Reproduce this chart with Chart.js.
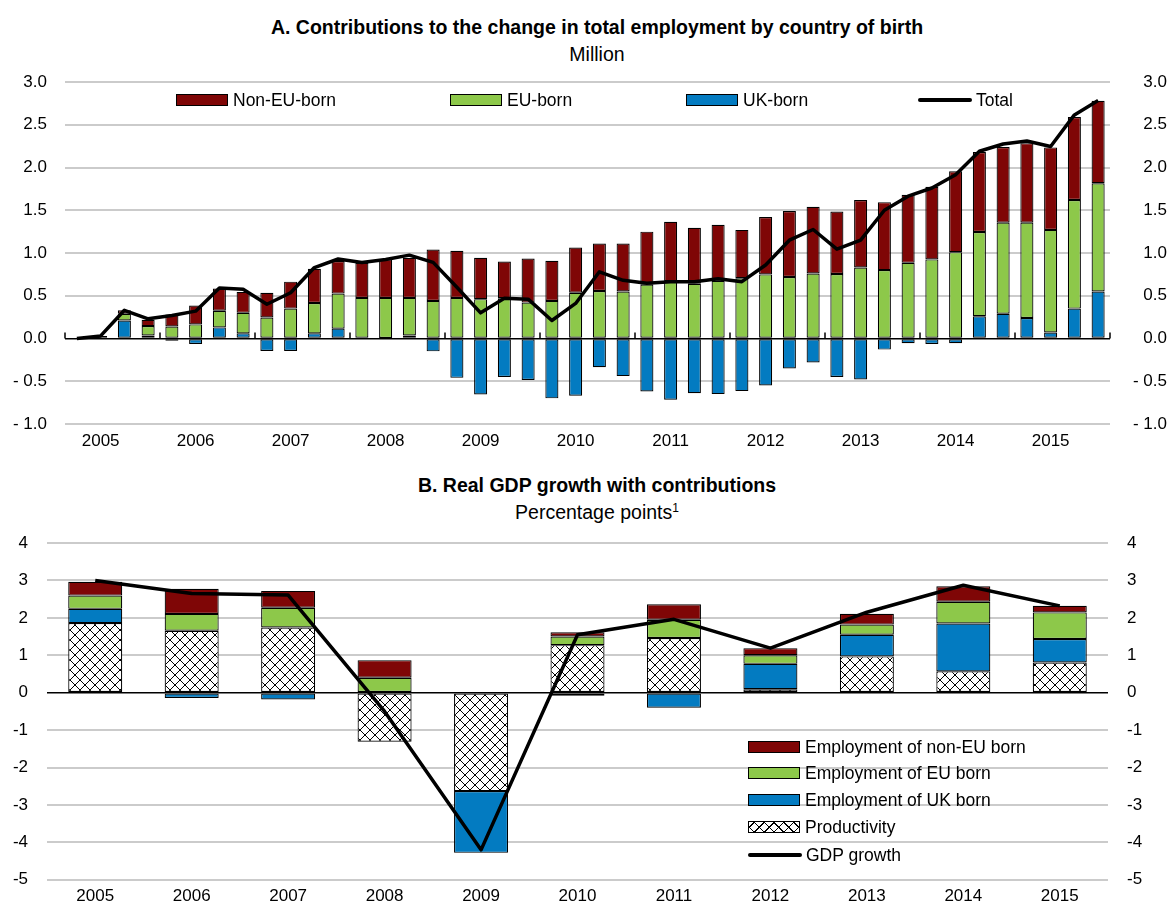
<!DOCTYPE html>
<html>
<head>
<meta charset="utf-8">
<script src="https://cdn.jsdelivr.net/npm/chart.js@4.4.1/dist/chart.umd.min.js"></script>
<style>
  html, body { margin: 0; padding: 0; background: #fff; }
  body { width: 1167px; height: 909px; position: relative; overflow: hidden; font-family: "Liberation Sans", Arial, sans-serif; color: #000; }
  .title { position: absolute; left: 0; width: 1194px; text-align: center; font-size: 19.5px; line-height: 22px; }
  .bold { font-weight: bold; }
  canvas { position: absolute; left: 0; }
  .item { position: absolute; white-space: nowrap; display: flex; align-items: center; font-size: 17.5px; line-height: 20px; }
  .box { width: 50px; height: 10px; border: 1px solid #000; margin-right: 5px; }
  .line { width: 54px; height: 4px; background: #000; border-radius: 2px; margin-right: 4px; }
  .hatch { background-color: #fff;
           background-image: repeating-linear-gradient(45deg, transparent 0 3px, #000 3px 4px, transparent 4px 7px),
                             repeating-linear-gradient(-45deg, transparent 0 3px, #000 3px 4px, transparent 4px 7px); }
</style>
</head>
<body>
<div class="title bold" style="top:16px">A. Contributions to the change in total employment by country of birth</div>
<div class="title" style="top:43px">Million</div>
<canvas id="chartA" width="1167" height="460" style="top:0"></canvas>
<div class="item" style="left:176px; top:90px"><span class="box" style="background:#7f0606"></span>Non-EU-born</div>
<div class="item" style="left:450px; top:90px"><span class="box" style="background:#8dc84a"></span>EU-born</div>
<div class="item" style="left:686px; top:90px"><span class="box" style="background:#037bc1"></span>UK-born</div>
<div class="item" style="left:918px; top:90px"><span class="line"></span>Total</div>

<div class="title bold" style="top:474px">B. Real GDP growth with contributions</div>
<div class="title" style="top:501px">Percentage points<sup style="font-size:12px; line-height:0">1</sup></div>
<canvas id="chartB" width="1167" height="449" style="top:460px"></canvas>
<div class="item" style="left:748px; top:737px"><span class="box" style="background:#7f0606"></span>Employment of non-EU born</div>
<div class="item" style="left:748px; top:763px"><span class="box" style="background:#8dc84a"></span>Employment of EU born</div>
<div class="item" style="left:748px; top:790px"><span class="box" style="background:#037bc1"></span>Employment of UK born</div>
<div class="item" style="left:748px; top:817px"><span class="box hatch"></span>Productivity</div>
<div class="item" style="left:748px; top:845px"><span class="line"></span>GDP growth</div>

<script>
// Panel A : quarterly contributions (million)
const quarters = [
    '2005 Q1', '2005 Q2', '2005 Q3', '2005 Q4',
    '2006 Q1', '2006 Q2', '2006 Q3', '2006 Q4',
    '2007 Q1', '2007 Q2', '2007 Q3', '2007 Q4',
    '2008 Q1', '2008 Q2', '2008 Q3', '2008 Q4',
    '2009 Q1', '2009 Q2', '2009 Q3', '2009 Q4',
    '2010 Q1', '2010 Q2', '2010 Q3', '2010 Q4',
    '2011 Q1', '2011 Q2', '2011 Q3', '2011 Q4',
    '2012 Q1', '2012 Q2', '2012 Q3', '2012 Q4',
    '2013 Q1', '2013 Q2', '2013 Q3', '2013 Q4',
    '2014 Q1', '2014 Q2', '2014 Q3', '2014 Q4',
    '2015 Q1', '2015 Q2', '2015 Q3', '2015 Q4'
];
const ukBorn = [
    0, 0, 0.21, 0.035,
    -0.025, -0.065, 0.13, 0.06,
    -0.145, -0.145, 0.06, 0.115,
    0, 0.005, 0.035, -0.15,
    -0.46, -0.655, -0.45, -0.485,
    -0.70, -0.67, -0.335, -0.44,
    -0.62, -0.715, -0.64, -0.65,
    -0.615, -0.55, -0.35, -0.28,
    -0.45, -0.48, -0.13, -0.055,
    -0.065, -0.055, 0.26, 0.29,
    0.24, 0.07, 0.35, 0.55
];
const euBorn = [
    0, 0.03, 0.08, 0.11,
    0.14, 0.165, 0.195, 0.24,
    0.245, 0.35, 0.355, 0.41,
    0.475, 0.47, 0.44, 0.44,
    0.475, 0.46, 0.47, 0.42,
    0.44, 0.535, 0.555, 0.55,
    0.63, 0.67, 0.64, 0.675,
    0.705, 0.75, 0.72, 0.76,
    0.755, 0.83, 0.80, 0.885,
    0.925, 1.01, 0.985, 1.065,
    1.115, 1.20, 1.27, 1.265
];
const nonEuBorn = [
    0, 0, 0.04, 0.075,
    0.14, 0.22, 0.26, 0.245,
    0.29, 0.315, 0.40, 0.38,
    0.41, 0.45, 0.47, 0.60,
    0.55, 0.485, 0.43, 0.515,
    0.47, 0.53, 0.555, 0.56,
    0.62, 0.695, 0.655, 0.655,
    0.565, 0.67, 0.77, 0.78,
    0.73, 0.79, 0.795, 0.795,
    0.85, 0.945, 0.935, 0.885,
    0.93, 0.965, 0.97, 0.965
];
const totalEmployment = [
    0, 0.03, 0.33, 0.23,
    0.27, 0.32, 0.59, 0.575,
    0.40, 0.535, 0.83, 0.93,
    0.89, 0.925, 0.975, 0.89,
    0.60, 0.30, 0.47, 0.46,
    0.21, 0.41, 0.78, 0.68,
    0.645, 0.665, 0.665, 0.70,
    0.665, 0.86, 1.15, 1.275,
    1.045, 1.15, 1.50, 1.665,
    1.76, 1.915, 2.19, 2.275,
    2.31, 2.245, 2.615, 2.785
];
const ticksA = [-1, -0.5, 0, 0.5, 1, 1.5, 2, 2.5, 3];

// Panel B : annual GDP growth and contributions (percentage points)
const years = ['2005', '2006', '2007', '2008', '2009', '2010', '2011', '2012', '2013', '2014', '2015'];
const productivity = [1.86, 1.655, 1.74, -1.31, -2.63, 1.27, 1.46, 0.09, 0.97, 0.57, 0.805];
const empUk = [0.38, -0.14, -0.18, 0, -1.65, -0.08, -0.40, 0.68, 0.58, 1.28, 0.63];
const empEu = [0.354, 0.45, 0.53, 0.40, 0, 0.23, 0.49, 0.23, 0.27, 0.58, 0.71];
const empNonEu = [0.37, 0.67, 0.45, 0.47, 0, 0.115, 0.415, 0.19, 0.29, 0.415, 0.18];
const gdpGrowth = [3.0, 2.65, 2.61, -0.5, -4.2, 1.55, 1.96, 1.19, 2.15, 2.87, 2.32];
const ticksB = [-5, -4, -3, -2, -1, 0, 1, 2, 3, 4];

const RED = '#7f0606';
const GREEN = '#8dc84a';
const BLUE = '#037bc1';
const GRID = '#cbcbcb';
const FONT = { family: '"Liberation Sans", Arial, sans-serif', size: 17 };

Chart.defaults.animation = false;
Chart.defaults.color = '#000';

// hachures croisées pour la productivité
function hatchPattern() {
    const c = document.createElement('canvas');
    c.width = 10; c.height = 10;
    const g = c.getContext('2d');
    g.fillStyle = '#fff';
    g.fillRect(0, 0, 10, 10);
    g.strokeStyle = '#000';
    g.lineWidth = 1;
    g.beginPath();
    g.moveTo(0, 0); g.lineTo(10, 10);
    g.moveTo(10, 0); g.lineTo(0, 10);
    g.stroke();
    return g.createPattern(c, 'repeat');
}

function barSet(label, data, color, width) {
    return {
        type: 'bar',
        label: label,
        data: data,
        backgroundColor: color,
        borderColor: '#000',
        borderWidth: 1.2,
        borderSkipped: false,
        stack: 'bars',
        order: 1,
        barPercentage: 1,
        categoryPercentage: width
    };
}

function lineSet(label, data) {
    return {
        type: 'line',
        label: label,
        data: data,
        borderColor: '#000',
        borderWidth: 3.5,
        pointRadius: 0,
        tension: 0,
        borderJoinStyle: 'round',
        stack: 'line',
        order: 0
    };
}

function gridOpts() {
    return {
        drawTicks: false,
        color: ctx => (ctx.tick && ctx.tick.value === 0 ? '#000' : GRID),
        lineWidth: ctx => (ctx.tick && ctx.tick.value === 0 ? 1.5 : 2)
    };
}

function yAxis(position, min, max, step, width, padding, align, fmt) {
    return {
        position: position,
        stacked: true,
        min: min,
        max: max,
        afterBuildTicks: axis => { axis.ticks = (step === 0.5 ? ticksA : ticksB).map(v => ({ value: v })); },
        afterFit: axis => { axis.width = width; },
        grid: position === 'left' ? gridOpts() : { display: false, drawTicks: false },
        border: { display: false },
        ticks: { font: FONT, padding: padding, crossAlign: align, callback: fmt }
    };
}

// petits traits de séparation des années sur la ligne zéro
const yearMarks = {
    id: 'yearMarks',
    beforeDatasetsDraw(chart) {
        const x = chart.scales.x;
        const y0 = chart.scales.y.getPixelForValue(0);
        const step = x.getPixelForValue(1) - x.getPixelForValue(0);
        const ctx = chart.ctx;
        ctx.save();
        ctx.strokeStyle = '#000';
        ctx.lineWidth = 1.5;
        ctx.beginPath();
        for (let i = 0; i <= quarters.length; i += 4) {
            const px = x.getPixelForValue(Math.min(i, quarters.length - 1)) + (i < quarters.length ? -step / 2 : step / 2);
            ctx.moveTo(px, y0);
            ctx.lineTo(px, y0 - 6);
        }
        ctx.stroke();
        ctx.restore();
    }
};

const fmtA = v => (v < 0 ? '- ' + Math.abs(v).toFixed(1) : v.toFixed(1));

new Chart(document.getElementById('chartA'), {
    data: {
        labels: quarters,
        datasets: [
            barSet('UK-born', ukBorn, BLUE, 0.55),
            barSet('EU-born', euBorn, GREEN, 0.55),
            barSet('Non-EU-born', nonEuBorn, RED, 0.55),
            lineSet('Total', totalEmployment)
        ]
    },
    options: {
        responsive: false,
        layout: { padding: { top: 82, left: 0, right: 0, bottom: 0 } },
        plugins: { legend: { display: false }, tooltip: { enabled: false } },
        scales: {
            x: {
                stacked: true,
                grid: { display: false, drawTicks: false },
                border: { display: false },
                afterFit: axis => { axis.height = 36; },
                ticks: {
                    font: FONT,
                    padding: 7,
                    autoSkip: false,
                    maxRotation: 0,
                    callback: (val, idx) => (idx % 4 === 1 ? quarters[idx].slice(0, 4) : '')
                }
            },
            y: yAxis('left', -1, 3, 0.5, 65, 18, 'near', fmtA),
            y2: yAxis('right', -1, 3, 0.5, 57, 6, 'far', fmtA)
        }
    },
    plugins: [yearMarks]
});

const fmtB = v => String(v);

new Chart(document.getElementById('chartB'), {
    data: {
        labels: years,
        datasets: [
            barSet('Productivity', productivity, hatchPattern(), 0.56),
            barSet('Employment of UK born', empUk, BLUE, 0.56),
            barSet('Employment of EU born', empEu, GREEN, 0.56),
            barSet('Employment of non-EU born', empNonEu, RED, 0.56),
            lineSet('GDP growth', gdpGrowth)
        ]
    },
    options: {
        responsive: false,
        layout: { padding: { top: 83, left: 0, right: 0, bottom: 0 } },
        plugins: { legend: { display: false }, tooltip: { enabled: false } },
        scales: {
            x: {
                stacked: true,
                grid: { display: false, drawTicks: false },
                border: { display: false },
                afterFit: axis => { axis.height = 28; },
                ticks: { font: FONT, padding: 6, autoSkip: false, maxRotation: 0 }
            },
            y: yAxis('left', -5, 4, 1, 47, 19, 'near', fmtB),
            y2: yAxis('right', -5, 4, 1, 59, 19, 'near', fmtB)
        }
    }
});
</script>
</body>
</html>
